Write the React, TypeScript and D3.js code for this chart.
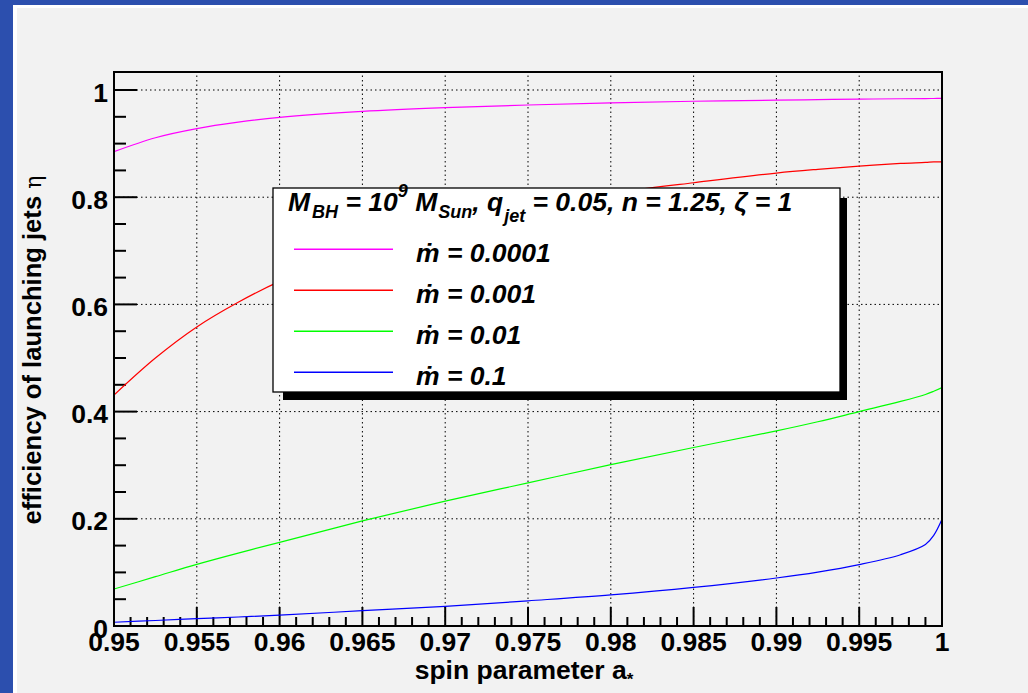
import React from 'react';
import * as d3 from 'd3';

const spin = [0.95, 0.9525, 0.955, 0.9575, 0.96, 0.965, 0.97, 0.975, 0.98, 0.985, 0.99, 0.9925, 0.995, 0.9975, 0.999, 0.9995, 1.0];
const etaMdot0001 = [0.885, 0.911, 0.928, 0.94, 0.949, 0.96, 0.967, 0.972, 0.976, 0.979, 0.981, 0.982, 0.983, 0.9837, 0.984, 0.9842, 0.9845];
const etaMdot001 = [0.431, 0.5, 0.558, 0.604, 0.643, 0.703, 0.752, 0.786, 0.808, 0.827, 0.845, 0.852, 0.858, 0.863, 0.865, 0.866, 0.866];
const etaMdot01 = [0.069, 0.092, 0.115, 0.136, 0.156, 0.196, 0.233, 0.267, 0.301, 0.333, 0.364, 0.381, 0.4, 0.419, 0.432, 0.438, 0.445];
const etaMdot1 = [0.007, 0.0103, 0.0137, 0.0168, 0.0202, 0.0286, 0.0367, 0.047, 0.058, 0.072, 0.0896, 0.1005, 0.1145, 0.133, 0.152, 0.169, 0.199];

const seriesValues = [etaMdot0001, etaMdot001, etaMdot01, etaMdot1];
const seriesLabels = ['ṁ = 0.0001', 'ṁ = 0.001', 'ṁ = 0.01', 'ṁ = 0.1'];
const seriesColors = ['#ff00ff', '#ff0000', '#00ff00', '#0000ff'];

const xTicks = [0.95, 0.955, 0.96, 0.965, 0.97, 0.975, 0.98, 0.985, 0.99, 0.995, 1];
const xTickLabels = ['0.95', '0.955', '0.96', '0.965', '0.97', '0.975', '0.98', '0.985', '0.99', '0.995', '1'];
const yTicks = [0, 0.2, 0.4, 0.6, 0.8, 1];
const yTickLabels = ['0', '0.2', '0.4', '0.6', '0.8', '1'];

const FONT = '"Liberation Sans", Arial, Helvetica, sans-serif';

export default function App() {
  const W = 1028, H = 693;
  const L = 114, R = 942, T = 72, B = 626;
  const x = d3.scaleLinear().domain([0.95, 1]).range([L, R]);
  const y = d3.scaleLinear().domain([0, 1.0336]).range([B, T]);

  const xMinor = d3.range(0, 51).map(i => 0.95 + i * 0.001);
  const yMinor = d3.range(0, 21).map(i => i * 0.05);

  const line = d3.line<number>()
    .x((_, i) => x(spin[i]))
    .y(d => y(d))
    .curve(d3.curveCatmullRom.alpha(0.5));

  const lg = { x: 273, y: 188, w: 567, h: 204 };
  const FS = 26.5;
  const SFS = 18;

  return (
    <div style={{ position: 'absolute', left: 0, top: 0 }}>
      <svg width={W} height={H} style={{ display: 'block' }} fontFamily={FONT}>
        <defs>
          <clipPath id="plotclip">
            <rect x={L} y={T} width={R - L} height={B - T} />
          </clipPath>
        </defs>
        <rect x={0} y={0} width={W} height={H} fill="#2c4fae" />
        <rect x={13} y={5} width={W - 13} height={H - 5} fill="#ffffff" />
        <rect x={17} y={8} width={W - 17} height={H - 8} fill="#f2f2f2" />

        {/* grid */}
        <g stroke="#000" strokeWidth={1} strokeDasharray="1.5 3">
          {xTicks.slice(1, -1).map((t, i) => (
            <line key={'gx' + i} x1={x(t)} x2={x(t)} y1={B} y2={T} />
          ))}
          {yTicks.slice(1).map((t, i) => (
            <line key={'gy' + i} x1={L} x2={R} y1={y(t)} y2={y(t)} />
          ))}
        </g>

        {/* ticks */}
        <g stroke="#000" strokeWidth={2}>
          {xMinor.map((t, i) => {
            const major = i % 5 === 0;
            return <line key={'xm' + i} x1={x(t)} x2={x(t)} y1={B} y2={B - (major ? 19 : 9)} />;
          })}
          {yMinor.map((t, i) => {
            const major = i % 4 === 0;
            return <line key={'ym' + i} x1={L} x2={L + (major ? 23 : 12)} y1={y(t)} y2={y(t)} />;
          })}
        </g>

        {/* curves */}
        <g clipPath="url(#plotclip)" fill="none" strokeWidth={1.2}>
          {seriesValues.map((vals, i) => (
            <path key={'c' + i} d={line(vals) || ''} stroke={seriesColors[i]} />
          ))}
        </g>

        {/* frame */}
        <rect x={L} y={T} width={R - L} height={B - T} fill="none" stroke="#000" strokeWidth={2} />

        {/* tick labels */}
        <g fontSize={FS} fontWeight="bold" fill="#000">
          {xTicks.map((t, i) => (
            <text key={'xl' + i} x={x(t)} y={651} textAnchor="middle">{xTickLabels[i]}</text>
          ))}
          {yTicks.map((t, i) => (
            <text key={'yl' + i} x={108} y={y(t) + 11.5} textAnchor="end">{yTickLabels[i]}</text>
          ))}
        </g>

        {/* axis titles */}
        <text x={(L + R) / 2 - 4} y={679} textAnchor="middle" fontSize={FS} fontWeight="bold">
          spin parameter a<tspan fontSize={17} dy={6}>*</tspan>
        </text>
        <text transform={`translate(41, 350) rotate(-90)`} textAnchor="middle" fontSize={25.6} fontWeight="bold">
          efficiency of launching jets <tspan fontWeight="normal" fontFamily='"DejaVu Serif", serif' fontSize={22}>η</tspan>
        </text>

        {/* legend */}
        <rect x={lg.x + 10} y={lg.y + 10} width={lg.w - 3} height={lg.h - 2} fill="#000" />
        <rect x={lg.x} y={lg.y} width={lg.w} height={lg.h} fill="#fff" stroke="#000" strokeWidth={1.3} />
        <text x={288} y={211} fontSize={FS} fontWeight="bold" fontStyle="italic">
          M<tspan fontSize={SFS} dx={2} dy={7}>BH</tspan>
          <tspan dy={-7}> = 10</tspan>
          <tspan fontSize={SFS} dy={-14}>9</tspan>
          <tspan dy={14}> M</tspan>
          <tspan fontSize={SFS} dx={1} dy={7}>Sun</tspan>
          <tspan dy={-7}>, q</tspan>
          <tspan fontSize={SFS} dx={1} dy={11}>jet</tspan>
          <tspan dy={-11}> = 0.05, n = 1.25, ζ = 1</tspan>
        </text>
        {seriesLabels.map((lab, i) => {
          const ly = 249.3 + i * 41;
          return (
            <g key={'lg' + i}>
              <line x1={294} x2={393} y1={ly} y2={ly} stroke={seriesColors[i]} strokeWidth={1.5} />
              <text x={416} y={ly + 12.5} fontSize={FS} fontWeight="bold" fontStyle="italic">{lab}</text>
            </g>
          );
        })}
      </svg>
    </div>
  );
}
